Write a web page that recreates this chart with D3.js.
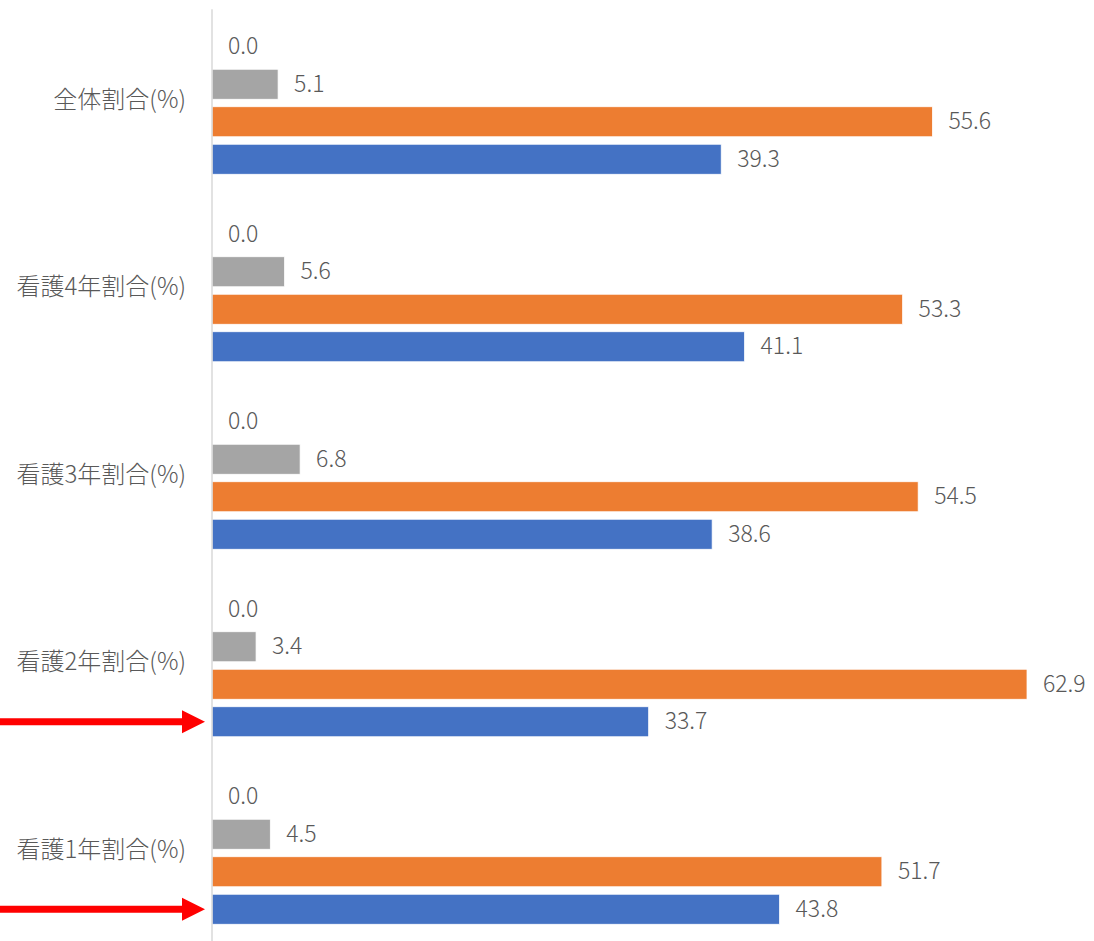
<!DOCTYPE html>
<html>
<head>
<meta charset="utf-8">
<script src="https://cdn.jsdelivr.net/npm/d3@7"></script>
<style>
  html, body { margin: 0; padding: 0; background: #fff; }
  svg { display: block; }
  text { font-family: "Noto Sans CJK JP", "Noto Sans", sans-serif; font-weight: 300; }
</style>
</head>
<body>
<svg id="chart" width="1094" height="941"></svg>
<script>
// Categories, top to bottom
const categories = ["全体割合(%)", "看護4年割合(%)", "看護3年割合(%)", "看護2年割合(%)", "看護1年割合(%)"];
// Series, drawn top to bottom inside each category group
const seriesKeys = ["other", "gray", "orange", "blue"];
const otherValues  = [0.0, 0.0, 0.0, 0.0, 0.0];
const grayValues   = [5.1, 5.6, 6.8, 3.4, 4.5];
const orangeValues = [55.6, 53.3, 54.5, 62.9, 51.7];
const blueValues   = [39.3, 41.1, 38.6, 33.7, 43.8];
const seriesColors = { other: "#5B9BD5", gray: "#A5A5A5", orange: "#ED7D31", blue: "#4472C4" };
// Categories whose blue bar is pointed out with a red arrow
const highlighted = ["看護2年割合(%)", "看護1年割合(%)"];

const valuesByKey = { other: otherValues, gray: grayValues, orange: orangeValues, blue: blueValues };
const rows = categories.map((c, i) => ({
  category: c,
  bars: seriesKeys.map(k => ({ key: k, value: valuesByKey[k][i] }))
}));

const svg = d3.select("#chart");
const x0 = 212;

const y = d3.scaleBand().domain(categories).range([9.25, 946.75]).padding(0);
const yInner = d3.scaleBand().domain(seriesKeys)
  .range([18.75, 168.75]).paddingInner(0.2).paddingOuter(0.1);
const x = d3.scaleLinear().domain([0, 70]).range([x0, x0 + 70 * 12.957]);

// Bars and value labels
const groups = svg.selectAll("g.group").data(rows).join("g")
  .attr("class", "group")
  .attr("transform", d => `translate(0,${y(d.category)})`);

groups.selectAll("rect").data(d => d.bars).join("rect")
  .attr("x", x(0))
  .attr("y", d => yInner(d.key))
  .attr("width", d => x(d.value) - x(0))
  .attr("height", yInner.bandwidth())
  .attr("fill", d => seriesColors[d.key])
  .attr("stroke", "#fff")
  .attr("stroke-width", 0.75);

groups.selectAll("text.val").data(d => d.bars).join("text")
  .attr("class", "val")
  .attr("x", d => x(d.value) + 16)
  .attr("y", d => yInner(d.key) + yInner.bandwidth() / 2)
  .attr("dy", "0.33em")
  .attr("fill", "#595959")
  .attr("font-size", 23)
  .text(d => d3.format(".1f")(d.value));

// Category axis
const axis = svg.append("g").attr("transform", `translate(${x0},0)`)
  .call(d3.axisLeft(y).tickSize(0).tickPadding(26));
axis.select(".domain").attr("stroke", "#D9D9D9").attr("stroke-width", 1.5)
  .attr("d", `M0,${y.range()[0]}V${y.range()[1]}`);
axis.selectAll(".tick text")
  .attr("fill", "#595959")
  .attr("font-size", 24)
  .attr("dy", "0.2em")
  .style("font-family", "'Noto Sans CJK JP', sans-serif")
  .style("font-weight", 300);

// Red arrows pointing at the blue bars
const arrows = svg.append("g");
highlighted.forEach(c => {
  const cy = y(c) + yInner("blue") + yInner.bandwidth() / 2;
  const tip = x0 - 7;
  arrows.append("rect")
    .attr("x", 0).attr("y", cy - 3.5)
    .attr("width", tip - 22).attr("height", 7)
    .attr("fill", "#FF0000");
  arrows.append("path")
    .attr("d", `M${tip - 23},${cy - 11.5}L${tip},${cy}L${tip - 23},${cy + 11.5}Z`)
    .attr("fill", "#FF0000");
});
</script>
</body>
</html>
